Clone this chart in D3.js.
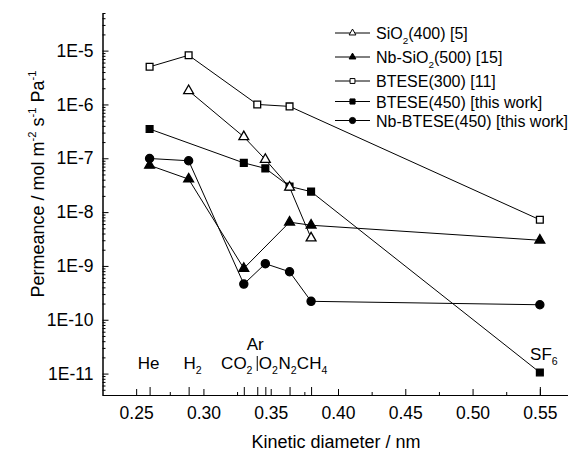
<!DOCTYPE html>
<html>
<head>
<meta charset="utf-8">
<script src="https://cdn.jsdelivr.net/npm/d3@7"></script>
<style>
  body { margin: 0; background: #fff; }
  svg { display: block; }
  text { font-family: "Liberation Sans", Arial, sans-serif; fill: #000; }
</style>
</head>
<body>
<script>
// gases and their kinetic diameters (nm)
const gases = ["He", "H2", "CO2", "Ar", "O2", "N2", "CH4", "SF6"];
const diameters = [0.26, 0.289, 0.33, 0.34, 0.346, 0.364, 0.38, 0.55];

// permeance per gas, null where not measured
const sio2_400 = [null, 1.8e-6, 2.5e-7, null, 9.5e-8, 2.9e-8, 3.3e-9, null];
const nbSio2_500 = [7.4e-8, 4.1e-8, 9.0e-10, null, null, 6.5e-9, 5.7e-9, 3.0e-9];
const btese300 = [5.0e-6, 8.2e-6, null, 1.0e-6, null, 9.2e-7, null, 7.2e-9];
const btese450 = [3.5e-7, null, 8.2e-8, null, 6.5e-8, 3.0e-8, 2.4e-8, 1.05e-11];
const nbBtese450 = [9.9e-8, 9.0e-8, 4.6e-10, null, 1.1e-9, 7.8e-10, 2.2e-10, 1.9e-10];

// legend labels, "_" marks a subscript digit
const seriesLabels = ["SiO_2(400) [5]", "Nb-SiO_2(500) [15]", "BTESE(300) [11]",
  "BTESE(450) [this work]", "Nb-BTESE(450) [this work]"];

const xTicks = [0.25, 0.30, 0.35, 0.40, 0.45, 0.50, 0.55];
const xMinorTicks = [0.275, 0.325, 0.375, 0.425, 0.475, 0.525];
const yTicks = [1e-11, 1e-10, 1e-9, 1e-8, 1e-7, 1e-6, 1e-5];

const W = 568, H = 451;
const x = d3.scaleLinear().domain([0.225, 0.575]).range([102.5, 573.5]);
const y = d3.scaleLog().domain([4e-12, 5e-5]).range([395, 13]);

const svg = d3.select("body").append("svg")
  .attr("width", W).attr("height", H)
  .attr("xmlns", "http://www.w3.org/2000/svg");

// put subscripts / superscripts into a text element
function richText(sel, str, size) {
  const parts = str.split(/(_\d|\^-\d)/).filter(s => s.length);
  let back = 0;
  parts.forEach(p => {
    if (p[0] === "_") {
      sel.append("tspan").text(p.slice(1)).attr("font-size", size * 0.62)
        .attr("dy", back + size * 0.3);
      back = -size * 0.3;
    } else if (p[0] === "^") {
      sel.append("tspan").text(p.slice(1)).attr("font-size", size * 0.62)
        .attr("dy", back - size * 0.45);
      back = size * 0.45;
    } else {
      sel.append("tspan").text(p).attr("dy", back);
      back = 0;
    }
  });
}

// y axis
const yMinor = [];
for (let e = -12; e <= -5; e++) {
  for (let m = 2; m <= 9; m++) {
    const v = m * Math.pow(10, e);
    if (v >= 4e-12 && v <= 5e-5) yMinor.push(v);
  }
}
svg.append("g").attr("transform", `translate(${x.range()[0]},0)`)
  .call(d3.axisLeft(y).tickValues(yMinor).tickSize(-3).tickSizeOuter(0).tickFormat(""));
const yAxis = svg.append("g").attr("transform", `translate(${x.range()[0]},0)`)
  .call(d3.axisLeft(y).tickValues(yTicks).tickSize(-6).tickSizeOuter(0).tickPadding(9)
    .tickFormat(d => "1E" + Math.round(Math.log10(d))));
yAxis.selectAll("text").attr("font-size", 17.5).attr("font-family", null);

// x axis
svg.append("g").attr("transform", "translate(0,395)")
  .call(d3.axisBottom(x).tickValues(xMinorTicks).tickSize(-3).tickSizeOuter(0).tickFormat(""));
svg.append("g").attr("transform", "translate(0,395)")
  .call(d3.axisBottom(x).tickValues(diameters).tickSize(-8).tickSizeOuter(0).tickFormat(""));
const xAxis = svg.append("g").attr("transform", "translate(0,395)")
  .call(d3.axisBottom(x).tickValues(xTicks).tickSize(-6).tickSizeOuter(0).tickPadding(12)
    .tickFormat(d3.format(".2f")));
xAxis.selectAll("text").attr("font-size", 17.5).attr("font-family", null);
svg.selectAll(".domain, .tick line").attr("stroke", "#000").attr("stroke-width", 1);

// axis titles
svg.append("text").attr("x", 336).attr("y", 448).attr("text-anchor", "middle")
  .attr("font-size", 18).text("Kinetic diameter / nm");
const yTitle = svg.append("text").attr("transform", "translate(44,184) rotate(-90)")
  .attr("text-anchor", "middle").attr("font-size", 18);
richText(yTitle, "Permeance / mol m^-2 s^-1 Pa^-1", 18);

// gas labels above the axis
const gasLabelPos = {
  He: [-1, 369], H2: [4, 369], CO2: [-7, 369], Ar: [-2, 350],
  O2: [3, 369], N2: [-2, 369], CH4: [1, 369], SF6: [4, 360]
};
gases.forEach((g, i) => {
  const [dx, by] = gasLabelPos[g];
  const t = svg.append("text").attr("x", x(diameters[i]) + dx).attr("y", by)
    .attr("text-anchor", "middle").attr("font-size", 17);
  richText(t, g.replace(/(\d)/, "_$1"), 17);
});
svg.append("line").attr("x1", x(0.34)).attr("x2", x(0.34))
  .attr("y1", 356).attr("y2", 371).attr("stroke", "#000");

// series
const series = [
  { label: seriesLabels[3], values: btese450, symbol: d3.symbolSquare, size: 46, fill: "#000", legSize: 26 },
  { label: seriesLabels[0], values: sio2_400, symbol: d3.symbolTriangle, size: 42, fill: "#fff", legSize: 20 },
  { label: seriesLabels[1], values: nbSio2_500, symbol: d3.symbolTriangle, size: 42, fill: "#000", legSize: 20 },
  { label: seriesLabels[2], values: btese300, symbol: d3.symbolSquare, size: 46, fill: "#fff", legSize: 24 },
  { label: seriesLabels[4], values: nbBtese450, symbol: d3.symbolCircle, size: 52, fill: "#000", legSize: 30 }
];

const line = d3.line().x(d => x(d[0])).y(d => y(d[1]));
series.forEach(s => {
  const pts = diameters.map((dm, i) => [dm, s.values[i]]).filter(d => d[1] != null);
  svg.append("path").attr("d", line(pts)).attr("fill", "none")
    .attr("stroke", "#000").attr("stroke-width", 1);
  s.pts = pts;
});
series.forEach(s => {
  svg.append("g").selectAll("path").data(s.pts).join("path")
    .attr("transform", d => `translate(${x(d[0])},${y(d[1])})`)
    .attr("d", d3.symbol(s.symbol, s.size))
    .attr("fill", s.fill).attr("stroke", "#000").attr("stroke-width", 1.3);
});

// legend
const legendRowY = [33, 57, 81, 101.5, 120.5];
seriesLabels.forEach((lab, i) => {
  const s = series.find(d => d.label === lab);
  const g = svg.append("g").attr("transform", `translate(335,${legendRowY[i]})`);
  g.append("line").attr("x1", 0).attr("x2", 35).attr("stroke", "#000");
  g.append("path").attr("transform", "translate(17.5,0)")
    .attr("d", d3.symbol(s.symbol, s.legSize))
    .attr("fill", s.fill).attr("stroke", "#000").attr("stroke-width", 1);
  const t = g.append("text").attr("x", 41).attr("y", 6).attr("font-size", 16);
  richText(t, lab, 16);
});
</script>
</body>
</html>
